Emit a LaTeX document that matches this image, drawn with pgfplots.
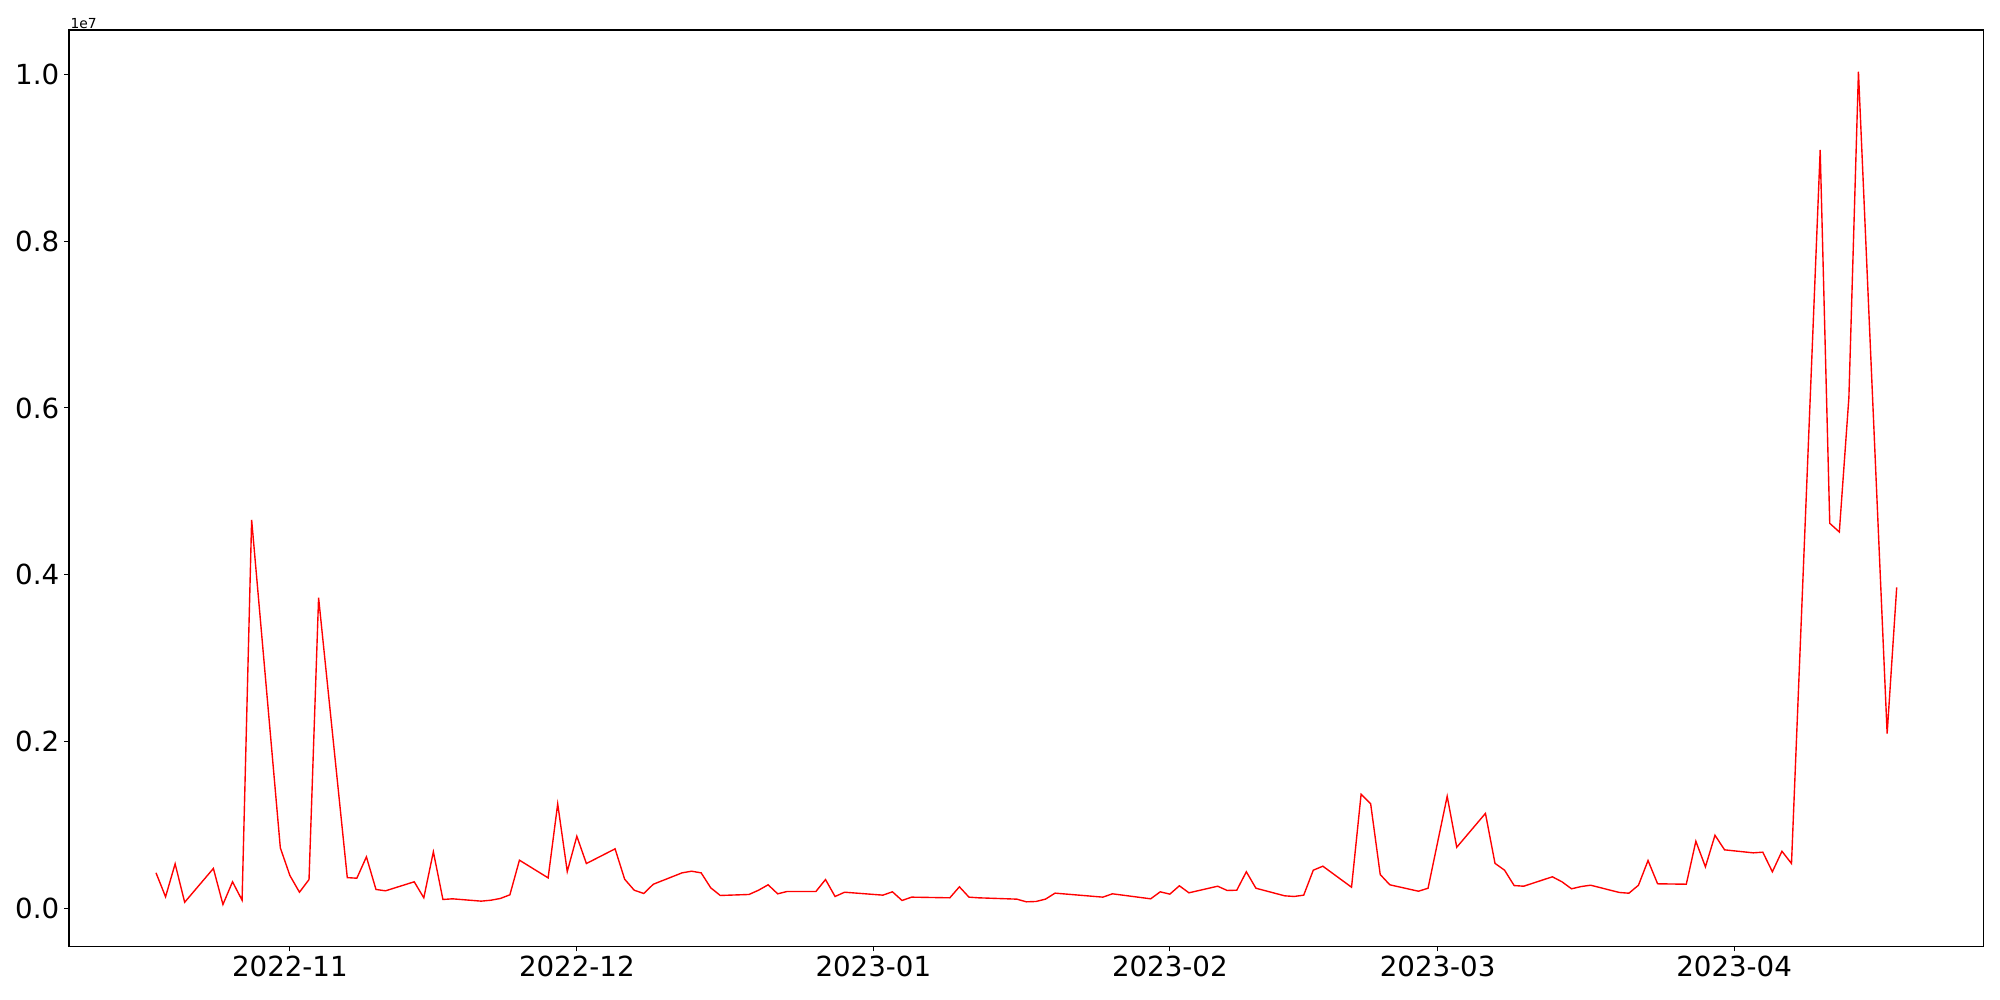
\documentclass[border=0pt]{standalone}
\usepackage{fontspec}
\setmainfont{DejaVu Sans}
\usepackage{pgfplots}
\pgfplotsset{compat=1.18}
\usepackage{pgfplotstable}

% day = days since 2022-11-01, value = raw series value
\pgfplotstableread{
day value
-14 428000
-13 140000
-12 535000
-11 75000
-8 480000
-7 48000
-6 320000
-5 99000
-4 4659000
-1 727000
0 395000
1 195000
2 347000
3 3725000
6 370000
7 363000
8 619000
9 228000
10 212000
13 320000
14 128000
15 679000
16 108000
17 116000
20 88000
21 99000
22 120000
23 164000
24 579000
27 367000
28 1254000
29 443000
30 866000
31 539000
34 715000
35 351000
36 219000
37 180000
38 291000
41 427000
42 447000
43 427000
44 248000
45 156000
48 168000
49 219000
50 284000
51 176000
52 204000
55 204000
56 347000
57 144000
58 195000
62 160000
63 200000
64 96000
65 136000
69 128000
70 260000
71 136000
72 128000
76 112000
77 80000
78 84000
79 112000
80 184000
85 136000
86 176000
90 116000
91 200000
92 172000
93 272000
94 188000
97 267000
98 216000
99 219000
100 440000
101 243000
104 152000
105 144000
106 160000
107 459000
108 507000
111 255000
112 1369000
113 1254000
114 407000
115 284000
118 207000
119 243000
121 1345000
122 734000
125 1140000
126 541000
127 459000
128 275000
129 267000
132 380000
133 320000
134 236000
135 263000
136 279000
139 192000
140 183000
141 279000
142 575000
143 296000
146 291000
147 806000
148 499000
149 878000
150 703000
153 667000
154 675000
155 440000
156 686000
157 539000
160 9092000
161 4617000
162 4513000
163 6123000
164 10030000
167 2096000
168 3850000
}\series

\begin{document}
\begin{tikzpicture}
\useasboundingbox (-49.84pt,-38.6pt) rectangle (1395.56pt,684.0pt);
\begin{axis}[
  at={(0,0)}, anchor=south west,
  scale only axis,
  width=1383.8pt, height=662.3pt,
  xmin=-23.1, xmax=177.1,
  ymin=-455000, ymax=10530000,
  scaled y ticks=false,
  xtick={0,30,61,92,120,151},
  xticklabels={2022-11,2022-12,2023-01,2023-02,2023-03,2023-04},
  ytick={0,2000000,4000000,6000000,8000000,10000000},
  yticklabels={0.0,0.2,0.4,0.6,0.8,1.0},
  tick align=outside,
  major tick length=3.5pt,
  tick style={black, line width=0.8pt},
  xtick pos=bottom, ytick pos=left,
  axis line style={line width=0.8pt},
  ticklabel style={font=\fontsize{20}{24}\selectfont},
  /pgf/number format/assume math mode=true,
  clip mode=individual,
]
\addplot[color=red, line width=1pt, mark=none] table[x=day, y=value] {\series};
\node[anchor=south west, inner sep=1pt, font=\fontsize{10}{12}\selectfont]
  at (rel axis cs:0,1) {1e7};
\end{axis}
\end{tikzpicture}
\end{document}
